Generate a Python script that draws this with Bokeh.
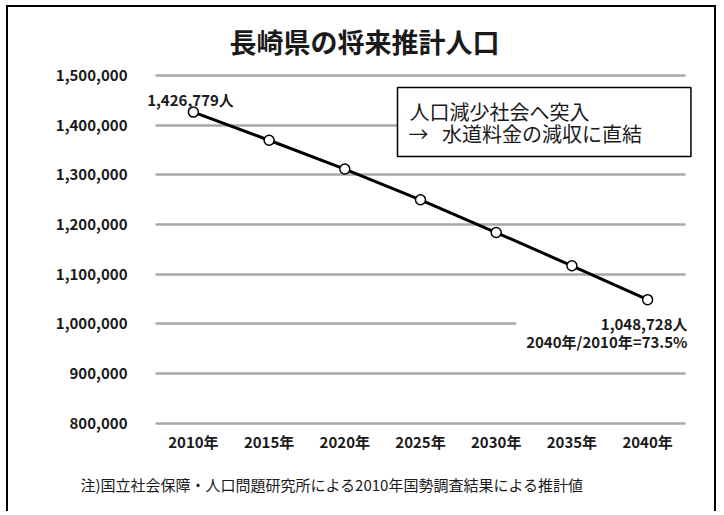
from bokeh.plotting import figure
from bokeh.models import FixedTicker, Label, ColumnDataSource, Range1d, Title, Grid
from bokeh.embed import file_html
from bokeh.resources import INLINE

# ---- data ----
years = [2010, 2015, 2020, 2025, 2030, 2035, 2040]
population = [1426779, 1370000, 1312000, 1250000, 1184000, 1117000, 1048728]
year_labels = ["2010年", "2015年", "2020年", "2025年", "2030年", "2035年", "2040年"]
y_ticks = [800000, 900000, 1000000, 1100000, 1200000, 1300000, 1400000, 1500000]
y_tick_labels = ["800,000", "900,000", "1,000,000", "1,100,000", "1,200,000",
                 "1,300,000", "1,400,000", "1,500,000"]
title_text = "長崎県の将来推計人口"
box_lines = ["人口減少社会へ突入", "→\u00a0\u00a0\u00a0水道料金の減収に直結"]
note_text = "注)国立社会保障・人口問題研究所による2010年国勢調査結果による推計値"

FONT = "Noto Sans CJK JP"
TXT = "#1a1a1a"

src = ColumnDataSource(dict(year=years, pop=population))

p = figure(width=710, height=506, output_backend="svg", toolbar_location=None,
           title=None,
           x_range=Range1d(2006.506, 2043.164), y_range=Range1d(795000, 1621500),
           min_border_left=132, min_border_right=23, min_border_top=8, min_border_bottom=88)
p.styles = {"margin-left": "6px", "margin-top": "5px",
            "border-top": "2px solid black", "border-left": "2px solid black",
            "border-right": "2px solid black"}
p.outline_line_color = None
p.background_fill_color = "white"
p.border_fill_color = "white"

p.xgrid.visible = False
p.ygrid.ticker = FixedTicker(ticks=y_ticks)
p.ygrid.grid_line_color = "#a8a8a8"
p.ygrid.grid_line_width = 2.5
if "cross_bounds" in Grid.properties():
    p.ygrid.cross_bounds = (2007.5, 2042.5)

for ax in (p.xaxis[0], p.yaxis[0]):
    ax.axis_line_color = None
    ax.major_tick_line_color = None
    ax.minor_tick_line_color = None
    ax.major_tick_in = 0
    ax.major_tick_out = 0
    ax.major_label_text_font = FONT
    ax.major_label_text_font_style = "bold"
    ax.major_label_text_font_size = "15px"
    ax.major_label_text_color = TXT

p.yaxis.ticker = FixedTicker(ticks=y_ticks)
p.yaxis.major_label_overrides = {t: l for t, l in zip(y_ticks, y_tick_labels)}
p.yaxis.major_label_standoff = 13
p.xaxis.ticker = FixedTicker(ticks=years)
p.xaxis.major_label_overrides = {y: l for y, l in zip(years, year_labels)}
p.xaxis.major_label_standoff = 5

p.line("year", "pop", source=src, line_color="black", line_width=3)
p.scatter("year", "pop", source=src, size=10, fill_color="white",
          line_color="black", line_width=1.5)

# title
p.add_layout(Label(x=354, y=32, x_units="canvas", y_units="canvas", text=title_text,
                   text_align="center", text_baseline="middle", text_font=FONT,
                   text_font_style="bold", text_font_size="27px", text_color=TXT))

# first value label
p.add_layout(Label(x=180, y=90, x_units="canvas", y_units="canvas",
                   text=f"{population[0]:,}人", text_align="center",
                   text_baseline="middle", text_font=FONT, text_font_style="bold",
                   text_font_size="15px", text_color=TXT))

# last value label with ratio
ratio = population[-1] / population[0] * 100
p.add_layout(Label(x=679, y=301, x_units="canvas", y_units="canvas",
                   text=f"{population[-1]:,}人\n2040年/2010年={ratio:.1f}%",
                   text_align="right", text_baseline="top", text_font=FONT,
                   text_font_style="bold", text_font_size="15px", text_color=TXT,
                   background_fill_color="white", text_line_height=0.88,
                   padding=dict(left=10, right=2, top=2, bottom=4)))

# text box (box drawn around second line, first line placed on top)
p.add_layout(Label(x=387, y=78, x_units="canvas", y_units="canvas",
                   text=box_lines[1],
                   text_align="left", text_baseline="top", text_font=FONT,
                   text_font_size="20px", text_color=TXT, text_line_height=1.0,
                   background_fill_color="white", border_line_color="black",
                   border_line_width=1.5,
                   padding=dict(left=11, right=49, top=31, bottom=9)))
p.add_layout(Label(x=399, y=102, x_units="canvas", y_units="canvas",
                   text=box_lines[0], text_align="left", text_baseline="middle",
                   text_font=FONT, text_font_size="20px", text_color=TXT))

# footnote
p.add_layout(Title(text=note_text, align="left", offset=-60, standoff=35,
                   text_font=FONT, text_font_size="15px", text_font_style="normal",
                   text_color=TXT), "below")

open("out.html", "w").write(file_html(p, INLINE))
